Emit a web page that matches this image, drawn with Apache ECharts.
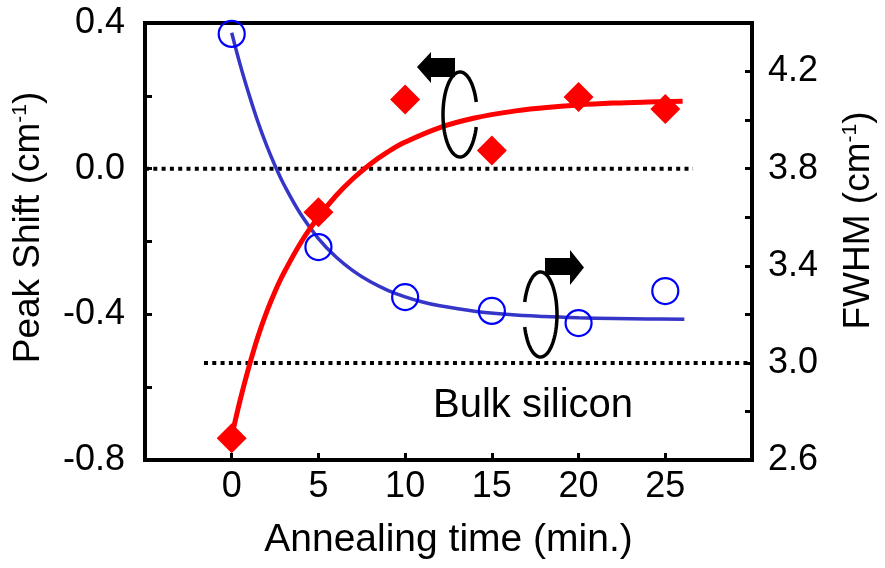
<!DOCTYPE html>
<html>
<head>
<meta charset="utf-8">
<script src="https://cdn.jsdelivr.net/npm/echarts@6/dist/echarts.min.js"></script>
<style>
html,body{margin:0;padding:0;background:#fff;}
#chart{width:885px;height:568px;}
</style>
</head>
<body>
<div id="chart"></div>
<script>
// ---- data ----
var times = [0, 5, 10, 15, 20, 25];
var peakShift = [-0.74, -0.12, 0.19, 0.05, 0.197, 0.164];
var fwhm = [4.355, 3.477, 3.271, 3.214, 3.164, 3.296];

var peakFitT = [0, 0.5, 1, 1.5, 2, 2.5, 3, 4, 5, 6, 7, 8, 9, 10, 12, 14, 16, 18, 20, 22, 24, 26];
var peakFitV = [-0.735, -0.633, -0.543, -0.463, -0.395, -0.337, -0.287, -0.202, -0.133, -0.075, -0.027, 0.013, 0.046, 0.073, 0.113, 0.139, 0.156, 0.167, 0.175, 0.180, 0.183, 0.185];

var fwhmFitT = [0, 0.5, 1, 1.5, 2, 2.5, 3, 4, 5, 6, 7, 8, 9, 10, 11, 12, 14, 16, 18, 20, 22, 24, 26.1];
var fwhmFitV = [4.36, 4.225, 4.105, 3.995, 3.898, 3.812, 3.736, 3.610, 3.512, 3.437, 3.379, 3.334, 3.299, 3.272, 3.251, 3.235, 3.213, 3.199, 3.191, 3.186, 3.183, 3.181, 3.18];

var zeroLineT = [-5, 26.6];
var zeroLineV = [0, 0];
var bulkLineT = [-1.6, 30];
var bulkLineV = [3.0, 3.0];

var xTickLabels = [0, 5, 10, 15, 20, 25];
var leftTickLabels = [-0.8, -0.4, 0.0, 0.4];
var rightTickLabels = [2.6, 3.0, 3.4, 3.8, 4.2];

function pairs(a, b) { return a.map(function (v, i) { return [v, b[i]]; }); }

// open ellipse outline for the rotation-arrow decorations
function ellipseArc(cx, cy, rx, ry, a0, a1) {
  var pts = [], n = 80;
  for (var i = 0; i <= n; i++) {
    var a = (a0 + (a1 - a0) * i / n) * Math.PI / 180;
    pts.push([cx + rx * Math.cos(a), cy + ry * Math.sin(a)]);
  }
  return pts;
}

var FONT = "'Liberation Sans', Arial, sans-serif";
var chart = echarts.init(document.getElementById('chart'), null, {renderer: 'canvas'});

var axisLine = {show: true, onZero: false, lineStyle: {color: '#000', width: 4}};
var tick = {show: true, inside: true, length: 7, lineStyle: {color: '#000', width: 3}};

chart.setOption({
  animation: false,
  backgroundColor: '#fff',
  grid: {left: 145, right: 133, top: 23, bottom: 108, show: true, borderColor: '#000', borderWidth: 4, backgroundColor: 'transparent'},
  xAxis: {
    type: 'value', min: -5, max: 30, interval: 5,
    axisLine: axisLine,
    axisTick: Object.assign({}, tick, {customValues: xTickLabels}),
    splitLine: {show: false},
    axisLabel: {customValues: xTickLabels, color: '#000', fontFamily: FONT, fontSize: 36, margin: 9},
    name: 'Annealing time (min.)', nameLocation: 'middle', nameGap: 61,
    nameTextStyle: {color: '#000', fontFamily: FONT, fontSize: 39}
  },
  yAxis: [{
    type: 'value', min: -0.8, max: 0.4, interval: 0.2, position: 'left',
    axisLine: axisLine, axisTick: tick, splitLine: {show: false},
    axisLabel: {customValues: leftTickLabels, color: '#000', fontFamily: FONT, fontSize: 36, margin: 20,
      formatter: function (v) { return v.toFixed(1); }},
    name: 'Peak Shift (cm{sup|-1})', nameLocation: 'middle', nameRotate: 90, nameGap: 98,
    nameTextStyle: {color: '#000', fontFamily: FONT, fontSize: 37, padding: [0, 0, 0, 28],
      rich: {sup: {fontFamily: FONT, fontSize: 21, color: '#000', verticalAlign: 'top', padding: [0, 0, 14, 0]}}}
  }, {
    type: 'value', min: 2.6, max: 4.4, interval: 0.2, position: 'right',
    axisLine: axisLine, axisTick: tick, splitLine: {show: false},
    axisLabel: {customValues: rightTickLabels, color: '#000', fontFamily: FONT, fontSize: 36, margin: 16,
      formatter: function (v) { return v.toFixed(1); }},
    name: 'FWHM (cm{sup|-1})', nameLocation: 'middle', nameRotate: 90, nameGap: 88,
    nameTextStyle: {color: '#000', fontFamily: FONT, fontSize: 37, padding: [0, 0, 0, 42],
      rich: {sup: {fontFamily: FONT, fontSize: 21, color: '#000', verticalAlign: 'top', padding: [0, 0, 14, 0]}}}
  }],
  series: [
    {type: 'line', yAxisIndex: 0, data: pairs(zeroLineT, zeroLineV), showSymbol: false, silent: true,
      lineStyle: {color: '#000', width: 4, type: [4, 4.3]}, z: 1},
    {type: 'line', yAxisIndex: 1, data: pairs(bulkLineT, bulkLineV), showSymbol: false, silent: true,
      lineStyle: {color: '#000', width: 4, type: [4, 4.3]}, z: 1},
    {type: 'line', yAxisIndex: 1, data: pairs(fwhmFitT, fwhmFitV), showSymbol: false, smooth: 0.4,
      lineStyle: {color: '#3535c8', width: 3.5}, z: 2},
    {type: 'line', yAxisIndex: 0, data: pairs(peakFitT, peakFitV), showSymbol: false, smooth: 0.4,
      lineStyle: {color: '#ff0000', width: 5}, z: 3},
    {type: 'scatter', yAxisIndex: 0, data: pairs(times, peakShift), symbol: 'diamond', symbolSize: 30,
      itemStyle: {color: '#ff0000', opacity: 1}, z: 4},
    {type: 'scatter', yAxisIndex: 1, data: pairs(times, fwhm), symbol: 'circle', symbolSize: 26,
      itemStyle: {color: 'rgba(0,0,0,0)', borderColor: '#0000ff', borderWidth: 2.2, opacity: 1}, z: 5}
  ],
  graphic: [
    {type: 'text', x: 433, y: 386, z: 10,
      style: {text: 'Bulk silicon', fill: '#000', font: '40px ' + FONT}},
    {type: 'polygon', z: 10, shape: {points: [[417,67],[431,52],[431,58],[455,58],[455,77],[431,77],[431,83]]},
      style: {fill: '#000'}},
    {type: 'polyline', z: 10, shape: {points: ellipseArc(460, 114.5, 17, 42.5, 17, 343)},
      style: {fill: null, stroke: '#000', lineWidth: 3.5}},
    {type: 'polygon', z: 10, shape: {points: [[545,258],[570,258],[570,250],[584,267.5],[570,285],[570,275],[545,275]]},
      style: {fill: '#000'}},
    {type: 'polyline', z: 10, shape: {points: ellipseArc(540.5, 314.5, 16.5, 42.5, -163, 163)},
      style: {fill: null, stroke: '#000', lineWidth: 3.5}}
  ]
});
</script>
</body>
</html>
